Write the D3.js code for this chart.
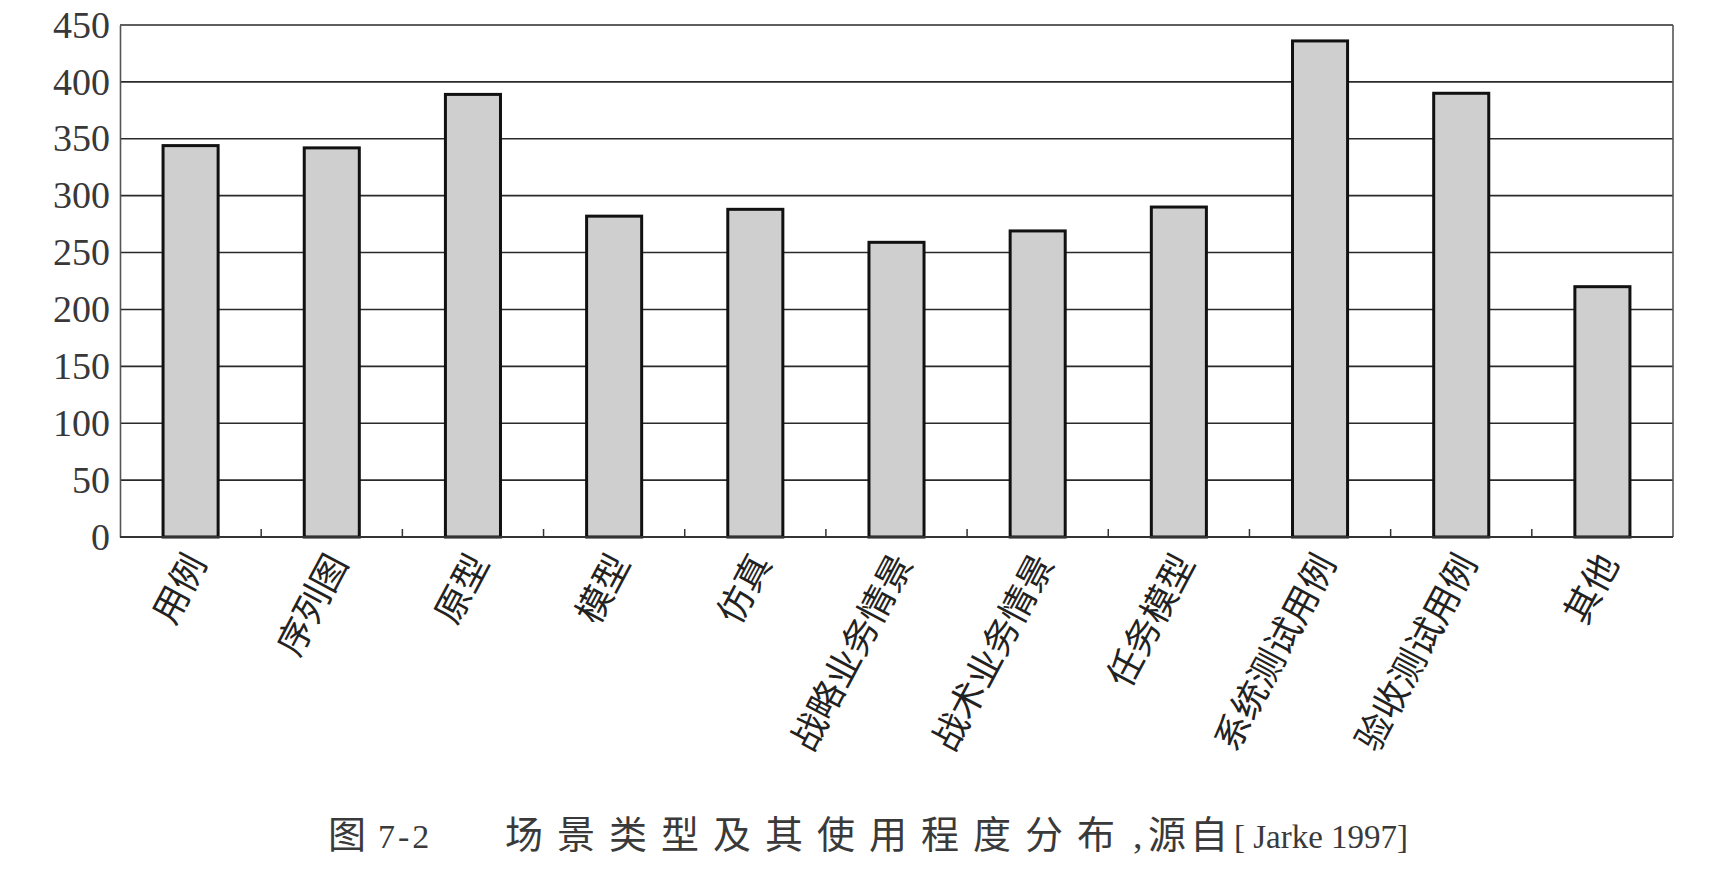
<!DOCTYPE html>
<html>
<head>
<meta charset="utf-8">
<script src="https://cdn.jsdelivr.net/npm/d3@7"></script>
<style>
  body { margin: 0; background: #fff; }
  svg { display: block; }
</style>
</head>
<body>
<svg width="1714" height="870"></svg>
<script>
// 数据
var categories = ["用例", "序列图", "原型", "模型", "仿真", "战略业务情景", "战术业务情景", "任务模型", "系统测试用例", "验收测试用例", "其他"];
var values = [344, 342, 389, 282, 288, 259, 269, 290, 436, 390, 220];
var yTicks = [0, 50, 100, 150, 200, 250, 300, 350, 400, 450];

var svg = d3.select("svg"),
    width = +svg.attr("width"),
    height = +svg.attr("height");

var margin = {top: 25, right: 41, bottom: 333, left: 120};
var plotW = width - margin.left - margin.right,
    plotH = height - margin.top - margin.bottom;

var cjk = "'Noto Sans CJK SC', sans-serif",
    serif = "'Liberation Serif', 'DejaVu Serif', serif";

var x = d3.scaleBand()
    .domain(categories)
    .range([0, plotW])
    .padding(0);

var y = d3.scaleLinear()
    .domain([0, 450])
    .range([plotH, 0]);

var g = svg.append("g")
    .attr("transform", "translate(" + margin.left + "," + margin.top + ")");

// griglia orizzontale
g.append("g")
  .selectAll("line")
  .data(yTicks.filter(function(d) { return d > 0; }))
  .enter().append("line")
    .attr("x1", 0)
    .attr("x2", plotW)
    .attr("y1", function(d) { return y(d); })
    .attr("y2", function(d) { return y(d); })
    .style("stroke", "#2a2a2a")
    .style("stroke-width", 1.6);

// bordo destro e asse sinistro
g.append("line")
    .attr("x1", plotW).attr("x2", plotW)
    .attr("y1", 0).attr("y2", plotH)
    .style("stroke", "#555")
    .style("stroke-width", 1.6);

var yAxis = g.append("g")
    .call(d3.axisLeft(y).tickValues(yTicks).tickSize(0).tickPadding(10));
yAxis.select(".domain")
    .style("stroke", "#555")
    .style("stroke-width", 1.6);
yAxis.selectAll("text")
    .style("font-family", serif)
    .style("font-size", "38px")
    .style("fill", "#383838");

// barre
var barFrac = 0.39;
g.append("g")
  .selectAll("rect")
  .data(categories)
  .enter().append("rect")
    .attr("x", function(d) { return x(d) + x.bandwidth() * (1 - barFrac) / 2; })
    .attr("width", x.bandwidth() * barFrac)
    .attr("y", function(d, i) { return y(values[i]); })
    .attr("height", function(d, i) { return plotH - y(values[i]); })
    .style("fill", "#cfcfcf")
    .style("stroke", "#111")
    .style("stroke-width", 3);

// asse x
var xAxis = g.append("g")
    .attr("transform", "translate(0," + plotH + ")");
xAxis.append("line")
    .attr("x1", 0).attr("x2", plotW)
    .style("stroke", "#333")
    .style("stroke-width", 1.8);
xAxis.selectAll(".tick")
  .data(categories.slice(1))
  .enter().append("line")
    .attr("class", "tick")
    .attr("x1", function(d) { return x(d); })
    .attr("x2", function(d) { return x(d); })
    .attr("y1", 0)
    .attr("y2", -8)
    .style("stroke", "#333")
    .style("stroke-width", 1.5);

xAxis.selectAll(".label")
  .data(categories)
  .enter().append("text")
    .attr("class", "label")
    .attr("transform", function(d) {
      return "translate(" + (x(d) + x.bandwidth() / 2 + 6) + ",20) rotate(-62)";
    })
    .attr("text-anchor", "end")
    .attr("dy", "0.35em")
    .style("font-family", cjk)
    .style("font-size", "36px")
    .style("fill", "#222")
    .text(function(d) { return d; });

// didascalia
var cap = svg.append("text")
    .attr("y", 848)
    .style("font-size", "38px")
    .style("fill", "#3a3a3a");
cap.append("tspan").attr("x", 328).style("font-family", cjk).text("图");
cap.append("tspan").attr("x", 378).style("font-family", serif)
    .style("font-size", "34px").style("letter-spacing", "3px").text("7-2");
cap.append("tspan").attr("x", 505).style("font-family", cjk)
    .style("letter-spacing", "14px").text("场景类型及其使用程度分布");
cap.append("tspan").attr("x", 1133).style("font-family", serif).text(",");
cap.append("tspan").attr("x", 1148).style("font-family", cjk)
    .style("letter-spacing", "4px").text("源自");
cap.append("tspan").attr("x", 1234).style("font-family", serif)
    .style("font-size", "33px").text("[ Jarke 1997]");
</script>
</body>
</html>
